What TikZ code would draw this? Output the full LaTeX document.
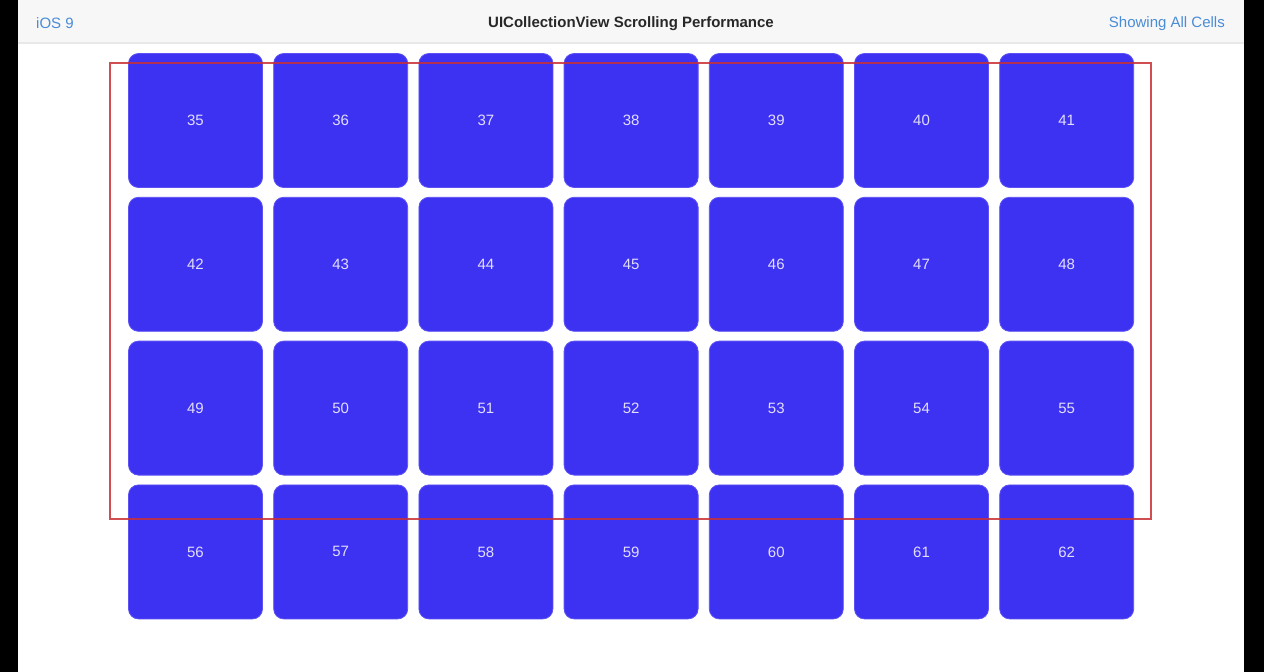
\documentclass[tikz,border=0pt]{standalone}
\usepackage{fontspec}
\setmainfont{Liberation Sans}
\definecolor{cellblue}{RGB}{62,50,242}
\definecolor{celltext}{RGB}{226,222,255}
\definecolor{barbg}{RGB}{247,247,247}
\definecolor{barline}{RGB}{232,232,234}
\definecolor{linkblue}{RGB}{74,140,214}
\definecolor{titlegray}{RGB}{40,40,40}
\definecolor{framered}{RGB}{200,48,52}
\tikzset{
  cell/.style={draw=cellblue!85!white, line width=0.8pt, fill=cellblue, rounded corners=10pt,
    minimum width=134pt, minimum height=134pt, inner sep=0pt, text=celltext,
    font=\fontsize{15}{15}\selectfont},
  barlabel/.style={inner sep=0pt, font=\fontsize{15}{15}\selectfont},
}
\begin{document}
\begin{tikzpicture}[x=1pt,y=-1pt]
\useasboundingbox (0,0) rectangle (1264,672);
% background
\fill[white] (0,0) rectangle (1264,672);
\fill[black] (0,0) rectangle (18,672);
\fill[black] (1244,0) rectangle (1264,672);
% top bar
\fill[barbg] (18,0) rectangle (1244,42);
\fill[barline] (18,42) rectangle (1244,44);
\node[barlabel, text=linkblue, anchor=west] (ios) at (36,23.5) {iOS 9};
\node[barlabel, text=titlegray, anchor=center] (title) at (631,23.5) {\textbf{UICollectionView Scrolling Performance}};
\node[barlabel, text=linkblue, anchor=east] (show) at (1225,23.5) {Showing All Cells};
% cells
\foreach \r in {0,1,2,3}{
  \foreach \c in {0,...,6}{
    \pgfmathtruncatemacro{\num}{35+7*\r+\c}
    \node[cell] (c\num) at ({195.5+145.2*\c},{120.5+143.8*\r}) {\num};
  }
}
% red frame
\draw[framered, opacity=0.85, line width=2pt] (110,63) rectangle (1151,519);
\end{tikzpicture}
\end{document}
